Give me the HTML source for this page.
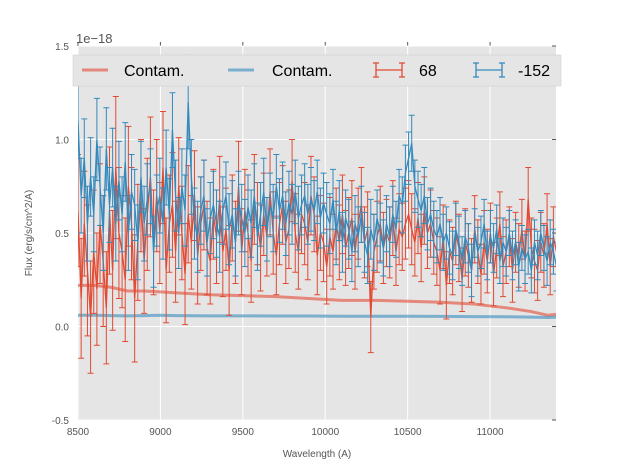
<!DOCTYPE html>
<html><head><meta charset="utf-8"><style>
body{margin:0;background:#fff;font-family:"Liberation Sans","DejaVu Sans",sans-serif}
svg text{font-family:"Liberation Sans","DejaVu Sans",sans-serif}
</style></head><body>
<svg id="chart" width="617" height="467" xmlns="http://www.w3.org/2000/svg"></svg>
<script>
const xStart=8500, xStep=19.1;
const fluxA=[0.62,0.15,0.55,0.30,0.05,0.40,0.20,0.55,0.35,0.10,0.62,0.30,0.85,0.50,0.40,0.25,0.75,0.55,0.15,0.45,0.70,0.35,0.60,0.80,0.45,0.70,0.50,0.85,0.30,0.55,0.65,0.40,0.75,0.50,0.28,0.60,0.45,0.70,0.38,0.55,0.65,0.42,0.35,0.60,0.48,0.68,0.40,0.52,0.30,0.58,0.45,0.75,0.40,0.62,0.50,0.35,0.68,0.55,0.42,0.60,0.48,0.72,0.50,0.38,0.55,0.65,0.45,0.52,0.78,0.50,0.40,0.60,0.55,0.45,0.70,0.60,0.38,0.50,0.45,0.32,0.48,0.40,0.55,0.45,0.60,0.42,0.50,0.58,0.40,0.55,0.65,0.45,0.52,0.05,0.40,0.48,0.55,0.42,0.50,0.45,0.58,0.40,0.52,0.48,0.55,0.60,0.52,0.45,0.58,0.42,0.62,0.50,0.55,0.45,0.40,0.30,0.48,0.22,0.40,0.35,0.50,0.42,0.25,0.45,0.38,0.30,0.52,0.40,0.28,0.45,0.35,0.50,0.28,0.42,0.55,0.32,0.40,0.48,0.30,0.45,0.38,0.52,0.35,0.68,0.42,0.35,0.30,0.45,0.38,0.55,0.32,0.48,0.40,0.70,0.42,0.38];
const errA=[0.30,0.32,0.28,0.35,0.30,0.33,0.30,0.32,0.35,0.30,0.34,0.32,0.38,0.35,0.30,0.33,0.32,0.30,0.34,0.31,0.30,0.28,0.30,0.32,0.28,0.30,0.27,0.30,0.28,0.26,0.28,0.27,0.26,0.25,0.27,0.26,0.25,0.24,0.26,0.25,0.24,0.25,0.23,0.24,0.25,0.23,0.24,0.22,0.24,0.23,0.22,0.24,0.23,0.22,0.23,0.22,0.24,0.22,0.23,0.22,0.21,0.23,0.22,0.21,0.22,0.21,0.22,0.21,0.22,0.21,0.20,0.21,0.22,0.20,0.21,0.20,0.21,0.20,0.21,0.20,0.21,0.20,0.19,0.20,0.21,0.20,0.19,0.20,0.20,0.19,0.20,0.19,0.20,0.19,0.20,0.19,0.20,0.19,0.18,0.19,0.20,0.18,0.19,0.18,0.19,0.18,0.19,0.18,0.19,0.18,0.18,0.19,0.18,0.17,0.18,0.18,0.17,0.18,0.17,0.18,0.17,0.18,0.17,0.18,0.17,0.17,0.18,0.17,0.16,0.17,0.17,0.16,0.17,0.16,0.17,0.16,0.17,0.16,0.17,0.16,0.17,0.16,0.16,0.17,0.16,0.17,0.16,0.16,0.17,0.16,0.15,0.16];
const fluxB=[1.10,0.70,0.90,0.55,0.80,0.60,1.00,0.75,0.50,0.95,0.65,0.85,0.55,0.78,0.60,0.88,0.50,0.72,0.65,0.45,0.80,0.55,0.68,0.75,0.40,0.62,0.70,0.55,0.85,0.60,1.05,0.70,0.50,0.75,0.62,1.20,0.80,0.55,0.48,0.62,0.70,0.45,0.58,0.65,0.55,0.48,0.62,0.70,0.52,0.60,0.45,0.66,0.58,0.50,0.64,0.55,0.70,0.48,0.60,0.72,0.52,0.65,0.58,0.75,0.62,0.70,0.55,0.66,0.60,0.72,0.58,0.65,0.70,0.60,0.68,0.62,0.72,0.58,0.66,0.60,0.55,0.68,0.50,0.62,0.45,0.58,0.52,0.40,0.55,0.48,0.60,0.45,0.38,0.52,0.45,0.58,0.50,0.42,0.55,0.48,0.60,0.52,0.70,0.65,0.82,0.90,0.98,0.75,0.68,0.62,0.70,0.55,0.60,0.52,0.48,0.55,0.45,0.50,0.42,0.38,0.52,0.45,0.35,0.48,0.42,0.30,0.50,0.40,0.45,0.55,0.38,0.48,0.42,0.52,0.35,0.45,0.40,0.50,0.38,0.45,0.32,0.42,0.36,0.40,0.30,0.45,0.38,0.50,0.42,0.35,0.45,0.40,0.32,0.25];
const errB=[0.20,0.20,0.21,0.20,0.21,0.20,0.22,0.21,0.20,0.22,0.20,0.21,0.20,0.21,0.20,0.21,0.20,0.20,0.19,0.20,0.19,0.20,0.19,0.20,0.19,0.19,0.20,0.19,0.20,0.19,0.20,0.19,0.19,0.20,0.19,0.25,0.20,0.19,0.19,0.18,0.19,0.18,0.19,0.18,0.18,0.19,0.18,0.18,0.19,0.18,0.18,0.17,0.18,0.18,0.17,0.18,0.17,0.18,0.17,0.18,0.17,0.17,0.18,0.17,0.17,0.18,0.17,0.17,0.16,0.17,0.17,0.16,0.17,0.16,0.17,0.16,0.17,0.16,0.16,0.17,0.16,0.16,0.17,0.16,0.16,0.15,0.16,0.16,0.15,0.16,0.15,0.16,0.15,0.16,0.15,0.15,0.16,0.15,0.15,0.16,0.15,0.15,0.14,0.15,0.15,0.14,0.15,0.14,0.15,0.14,0.15,0.14,0.14,0.15,0.14,0.14,0.15,0.14,0.14,0.13,0.14,0.14,0.13,0.14,0.13,0.14,0.13,0.13,0.14,0.13,0.13,0.14,0.13,0.13,0.12,0.13,0.13,0.12,0.13,0.12,0.13,0.12,0.13,0.12,0.12,0.12,0.13,0.12,0.12,0.13,0.12,0.12,0.13,0.12,0.12,0.12];
const contamX=[8500,8600,8700,8800,8900,9000,9100,9300,9500,9700,9900,10100,10300,10500,10700,10900,11100,11250,11350,11400];
const contamA=[0.22,0.22,0.21,0.19,0.19,0.185,0.18,0.17,0.165,0.16,0.15,0.14,0.14,0.135,0.13,0.12,0.10,0.08,0.06,0.065];
const contamB=[0.06,0.06,0.058,0.057,0.058,0.06,0.058,0.057,0.057,0.056,0.056,0.055,0.055,0.055,0.054,0.053,0.052,0.05,0.048,0.05];
const xTicks=[8500,9000,9500,10000,10500,11000];
const yTicks=[-0.5,0.0,0.5,1.0,1.5];

const L=78,R=556,T=46,B=420,x0=8500,x1=11400,y0=-0.5,y1=1.5;
const sx=v=>L+(v-x0)/(x1-x0)*(R-L), sy=v=>B-(v-y0)/(y1-y0)*(B-T);
const svg=document.getElementById('chart');const NS='http://www.w3.org/2000/svg';
function mk(tag,attrs,parent){const e=document.createElementNS(NS,tag);for(const k in attrs)e.setAttribute(k,attrs[k]);(parent||svg).appendChild(e);return e;}
const bg=mk('rect',{x:L,y:T,width:R-L,height:B-T,fill:'#e5e5e5'});


const clip=mk('clipPath',{id:'cp'});mk('rect',{x:L,y:T,width:R-L,height:B-T},clip);
xTicks.forEach(t=>{const x=sx(t);
 const g=mk('line',{x1:x,x2:x,y1:T,y2:B,stroke:'#fff','stroke-width':1});
 
 
 mk('line',{x1:x,x2:x,y1:T,y2:T-4,stroke:'#555'});
 const tx=mk('text',{x:x,y:B+15,'text-anchor':'middle','font-size':10,fill:'#555'});tx.textContent=t;
 
 
});
yTicks.forEach(t=>{const y=sy(t);
 const g=mk('line',{x1:L,x2:R,y1:y,y2:y,stroke:'#fff','stroke-width':1});
 
 
 mk('line',{x1:R-4,x2:R,y1:y,y2:y,stroke:'#555'});
 const tx=mk('text',{x:L-9,y:y+4,'text-anchor':'end','font-size':10,fill:'#555'});tx.textContent=t.toFixed(1);
 
 
});
const data=mk('g',{'clip-path':'url(#cp)'});


function contam(vals,col,name){const p=mk('polyline',{points:contamX.map((x,i)=>sx(x)+','+sy(vals[i])).join(' '),fill:'none',stroke:col,'stroke-width':3,'stroke-opacity':0.6},data);
 
 }
function series(vals,errs,col,name){const g=mk('g',{},data);
 
 
 vals.forEach((v,i)=>{const x=sx(xStart+i*xStep),a=sy(v+errs[i]),b=sy(v-errs[i]);
  mk('path',{d:`M${x},${a}V${b}M${x-3},${a}H${x+3}M${x-3},${b}H${x+3}`,stroke:col,'stroke-width':1,fill:'none'},g);});
 mk('polyline',{points:vals.map((v,i)=>sx(xStart+i*xStep)+','+sy(v)).join(' '),fill:'none',stroke:col,'stroke-width':1.3},g);}
contam(contamA,'#e24a33','contam-line-68');
contam(contamB,'#348abd','contam-line-152');
series(fluxA,errA,'#e24a33','series-68');
series(fluxB,errB,'#348abd','series-152');
const xl=mk('text',{x:(L+R)/2,y:457,'text-anchor':'middle','font-size':10,fill:'#555'});xl.textContent='Wavelength (A)';


const yl=mk('text',{x:32,y:233,'text-anchor':'middle','font-size':10,fill:'#555',transform:'rotate(-90 32 233)'});yl.textContent='Flux (erg/s/cm^2/A)';


const ex=mk('text',{x:76,y:43,'font-size':13,fill:'#555'});ex.textContent='1e\u221218';


const lg=mk('g',{});


mk('rect',{x:73,y:55,width:488,height:31,fill:'#e5e5e5',stroke:'#ccc','stroke-width':0.5},lg);
mk('line',{x1:82,x2:108,y1:70,y2:70,stroke:'#e24a33','stroke-width':3,'stroke-opacity':0.6},lg);
mk('line',{x1:228,x2:254,y1:70,y2:70,stroke:'#348abd','stroke-width':3,'stroke-opacity':0.6},lg);
[[389,'#e24a33'],[489,'#348abd']].forEach(([c,col])=>{mk('path',{d:`M${c-13},70H${c+13}M${c-13},63V77M${c+13},63V77M${c-16},63H${c-10}M${c-16},77H${c-10}M${c+10},63H${c+16}M${c+10},77H${c+16}`,stroke:col,'stroke-width':1.3,fill:'none'},lg);});
[[124,'Contam.'],[272,'Contam.'],[419,'68'],[518,'-152']].forEach(([x,t])=>{const tx=mk('text',{x:x,y:76,'font-size':16,fill:'#000'},lg);tx.textContent=t;
 
 });
</script>
</body></html>
